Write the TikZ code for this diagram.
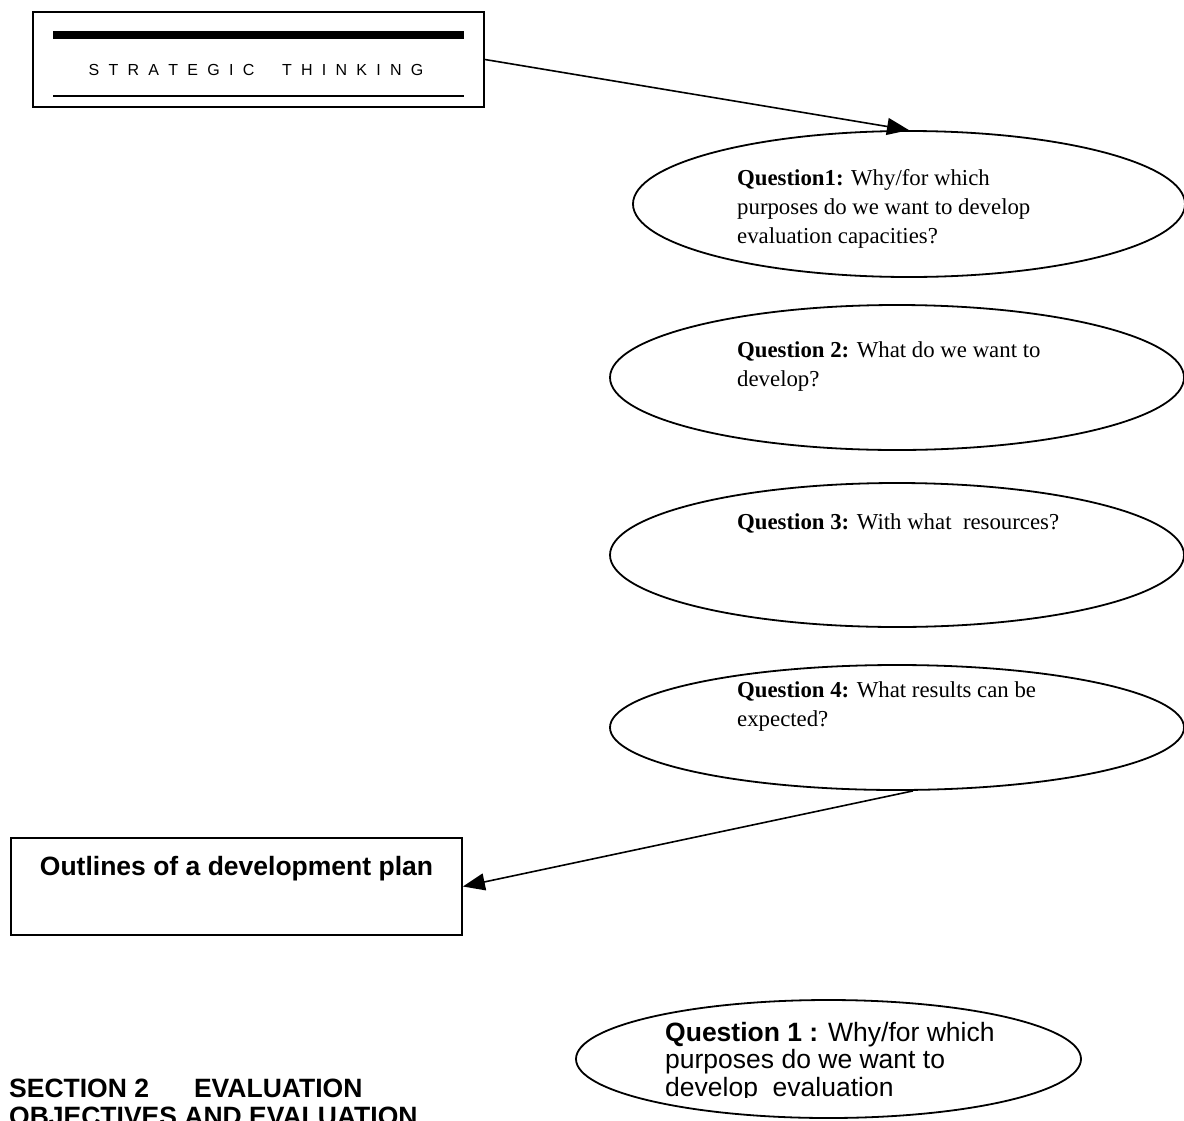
\documentclass[tikz,border=0pt]{standalone}
\usepackage{fontspec}
\setmainfont{Liberation Serif}
\newfontfamily\arial{Liberation Sans}
\usetikzlibrary{shapes.geometric,arrows.meta}
\newcommand\lgap{\hspace{9.25pt}}
\begin{document}
\begin{tikzpicture}[x=1pt,y=-1pt,
  frame/.style={draw,line width=1.8pt,rectangle,inner sep=0pt},
  oval/.style={draw,line width=1.8pt,ellipse,inner sep=0pt},
  qtext/.style={anchor=base west,inner sep=0pt,align=left,font=\fontsize{22.8}{29}\selectfont},
  stext/.style={anchor=base west,inner sep=0pt,align=left,font=\arial\fontsize{26.5}{27.5}\selectfont},
  link/.style={line width=1.6pt,-{Triangle[length=22pt,width=17pt]}}]
\useasboundingbox (0,0) rectangle (1184,1120);
\clip (0,0) rectangle (1184,1120);

% strategic thinking header box
\node[frame,minimum width=451,minimum height=95] (st) at (258.5,59.5) {};
\fill (53,31) rectangle (464,39);
\draw[line width=2.2pt] (53,96) -- (464,96);
\node[anchor=base,inner sep=0pt,font=\arial\fontsize{16}{18}\selectfont] (sttext) at (256,75)
  {S\lgap T\lgap R\lgap A\lgap T\lgap E\lgap G\lgap I\lgap C\lgap\lgap\lgap T\lgap H\lgap I\lgap N\lgap K\lgap I\lgap N\lgap G};

% question ovals (text anchored at the baseline of its last line)
\node[oval,minimum width=552,minimum height=146] (q1) at (909,204) {};
\node[qtext] (q1t) at (737,243) {\textbf{Question1:} Why/for which\\purposes do we want to develop\\evaluation capacities?};

\node[oval,minimum width=574,minimum height=145] (q2) at (897,377.5) {};
\node[qtext] (q2t) at (737,386) {\textbf{Question 2:} What do we want to\\develop?};

\node[oval,minimum width=574,minimum height=144] (q3) at (897,555) {};
\node[qtext] (q3t) at (737,529) {\textbf{Question 3:} With what\ \ resources?};

\node[oval,minimum width=574,minimum height=125] (q4) at (897,727.5) {};
\node[qtext] (q4t) at (737,726) {\textbf{Question 4:} What results can be\\expected?};

% development plan box
\node[frame,minimum width=451,minimum height=97] (plan) at (236.5,886.5) {};
\node[anchor=base,inner sep=0pt,font=\arial\bfseries\fontsize{26.5}{28}\selectfont] (plantext) at (236.5,875) {Outlines of a development plan};

% connectors
\draw[link] (st.east) -- (q1.north);
\draw[link] ([xshift=16pt]q4.south) -- (plan.east);

% next page fragment
\node[oval,minimum width=505,minimum height=118] (b1) at (828.5,1059) {};
\begin{scope}
  \clip (600,1000) rectangle (1100,1097);
  \node[stext] (b1t) at (665,1096) {\textbf{Question 1 :} Why/for which\\purposes do we want to\\develop\ \ evaluation};
\end{scope}
\node[anchor=base west,inner sep=0pt,align=left,font=\arial\bfseries\fontsize{26.5}{28}\selectfont] (sec) at (9,1125)
  {SECTION 2\hspace{45pt}EVALUATION\\OBJECTIVES AND EVALUATION};
\end{tikzpicture}
\end{document}
